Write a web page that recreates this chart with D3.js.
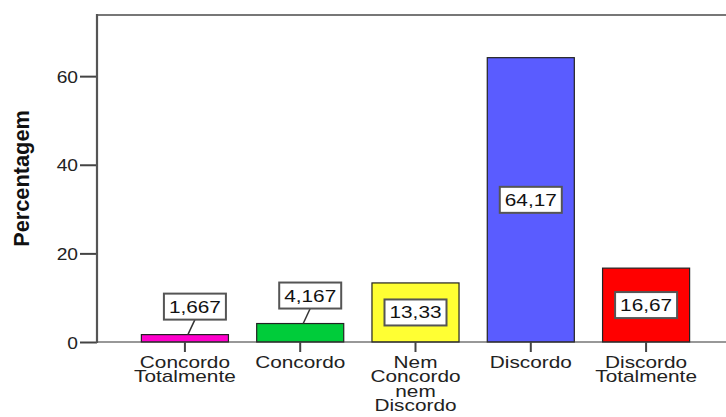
<!DOCTYPE html>
<html>
<head>
<meta charset="utf-8">
<script src="https://cdn.jsdelivr.net/npm/d3@7"></script>
<style>
  html, body { margin: 0; padding: 0; background: #fff; }
  svg { display: block; font-family: "Liberation Sans", Arial, sans-serif; }
</style>
</head>
<body>
<svg id="chart" width="726" height="417"></svg>
<script>
// Survey response shares (percent)
const categories = ["Concordo Totalmente", "Concordo", "Nem Concordo nem Discordo", "Discordo", "Discordo Totalmente"];
const values = [1.667, 4.167, 13.33, 64.17, 16.67];
const colors = ["#ff00cc", "#00cc3a", "#ffff33", "#5a5cff", "#ff0000"];
const yTicks = [0, 20, 40, 60];
const yTitle = "Percentagem";

const svg = d3.select("#chart");
const plotLeft = 97, plotRight = 734, plotTop = 15, plotBottom = 342;
const sx = 1.3; // horizontal stretch of the lettering

const x = d3.scaleBand().domain(categories).range([plotLeft, plotRight])
  .paddingInner(0.245).paddingOuter(0.385);
const y = d3.scaleLinear().domain([0, 73.8]).range([plotBottom, plotTop]);

const comma = d3.formatLocale({ decimal: ",", thousands: ".", grouping: [3], currency: ["", ""] });
const fmt = comma.format(".4");

// frame: top border line
svg.append("line").attr("x1", plotLeft).attr("x2", 726).attr("y1", plotTop).attr("y2", plotTop)
  .attr("stroke", "#777").attr("stroke-width", 2);

// bars
svg.append("g").selectAll("rect").data(values).join("rect")
  .attr("x", (d, i) => x(categories[i]))
  .attr("y", d => y(d))
  .attr("width", x.bandwidth())
  .attr("height", d => y(0) - y(d))
  .attr("fill", (d, i) => colors[i])
  .attr("stroke", "#222").attr("stroke-width", 1.2);

// x axis baseline + ticks
svg.append("line").attr("x1", plotLeft).attr("x2", 726).attr("y1", y(0)).attr("y2", y(0))
  .attr("stroke", "#333").attr("stroke-width", 1.2);
const xg = svg.append("g");
categories.forEach(c => {
  const cx = x(c) + x.bandwidth() / 2;
  xg.append("line").attr("x1", cx).attr("x2", cx).attr("y1", y(0)).attr("y2", y(0) + 10)
    .attr("stroke", "#444").attr("stroke-width", 2);
  const t = xg.append("text")
    .attr("transform", `translate(${cx},${y(0) + 26}) scale(${sx},1)`)
    .attr("text-anchor", "middle").attr("font-size", 16).attr("fill", "#222");
  c.split(" ").forEach((w, k) => {
    t.append("tspan").attr("x", 0).attr("y", k * 14.3).text(w);
  });
});

// y axis
const yAxis = d3.axisLeft(y).tickValues(yTicks).tickSize(17).tickPadding(3).tickFormat(d3.format("d"));
const yg = svg.append("g").attr("transform", `translate(${plotLeft},0)`).call(yAxis);
yg.select(".domain").remove();
yg.selectAll(".tick line").attr("stroke", "#444").attr("stroke-width", 2);
yg.selectAll(".tick text")
  .attr("font-size", 16).attr("fill", "#222").attr("font-family", "Liberation Sans, Arial, sans-serif")
  .attr("x", null).attr("dy", null)
  .attr("transform", `translate(-19,6) scale(1.2,1)`);
svg.append("line").attr("x1", plotLeft).attr("x2", plotLeft).attr("y1", plotTop - 1).attr("y2", y(0) + 1)
  .attr("stroke", "#555").attr("stroke-width", 2.2);

// y title
svg.append("text")
  .attr("transform", `translate(29,${(110 + 247) / 2}) rotate(-90) scale(1.21,1.25)`)
  .attr("text-anchor", "middle").attr("font-size", 18).attr("font-weight", "bold").attr("fill", "#111")
  .text(yTitle);

// value labels in boxes
const boxW = 62, boxH = 26;
const lg = svg.append("g");
values.forEach((v, i) => {
  const cx = x(categories[i]) + x.bandwidth() / 2;
  const barH = y(0) - y(v);
  let bx, by;
  if (barH > boxH + 8) {
    bx = cx; by = (y(v) + y(0)) / 2;
  } else {
    bx = cx + 10; by = y(v) - 15 - boxH / 2;
    lg.append("line").attr("x1", bx).attr("y1", by + boxH / 2)
      .attr("x2", cx + 3).attr("y2", y(v))
      .attr("stroke", "#333").attr("stroke-width", 1.5);
  }
  lg.append("rect").attr("x", bx - boxW / 2).attr("y", by - boxH / 2)
    .attr("width", boxW).attr("height", boxH)
    .attr("fill", "#fff").attr("stroke", "#555").attr("stroke-width", 2);
  lg.append("text")
    .attr("transform", `translate(${bx},${by + 6}) scale(${sx},1)`)
    .attr("text-anchor", "middle").attr("font-size", 16).attr("fill", "#111")
    .text(fmt(v));
});
</script>
</body>
</html>
